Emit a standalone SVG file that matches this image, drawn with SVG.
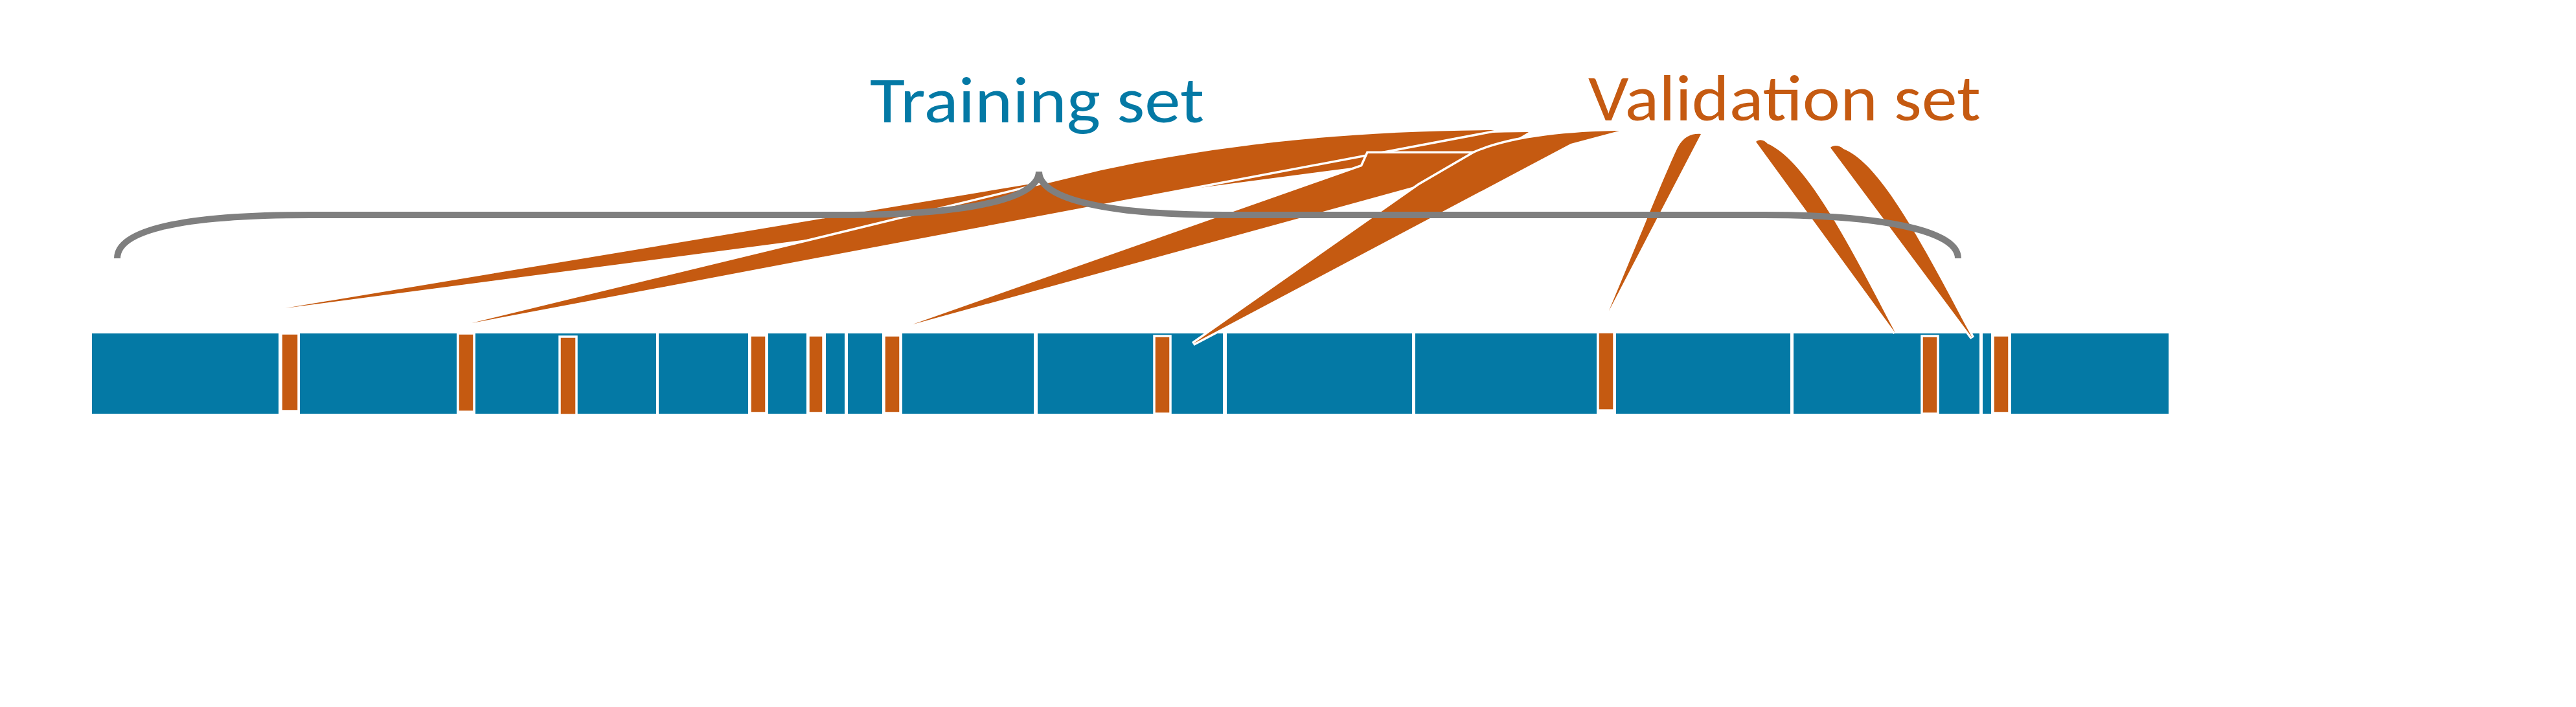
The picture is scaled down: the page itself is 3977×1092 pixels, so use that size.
<svg xmlns="http://www.w3.org/2000/svg" width="3977" height="1092" viewBox="0 0 3977 1092">
<style>
.seg{fill:#0479A5}
.fold{fill:#C55A11;stroke:#FFFFFF;stroke-width:3.5}
.wedge{fill:#C55A11;stroke:#FFFFFF;stroke-width:7;paint-order:stroke fill}
.brace{fill:none;stroke:#7F7F7F;stroke-width:10}
.lbl{font-family:Carlito,Lato,"Open Sans",sans-serif;font-size:100px}
</style>
<rect width="3977" height="1092" fill="#FFFFFF"/>
<g id="data-bar">
<rect class="seg" x="142" y="515" width="288" height="124"/>
<rect class="seg" x="463" y="515" width="242" height="124"/>
<rect class="seg" x="734" y="515" width="279" height="124"/>
<rect class="seg" x="1017" y="515" width="138" height="124"/>
<rect class="seg" x="1186" y="515" width="59" height="124"/>
<rect class="seg" x="1275" y="515" width="29" height="124"/>
<rect class="seg" x="1309" y="515" width="53" height="124"/>
<rect class="seg" x="1393" y="515" width="203" height="124"/>
<rect class="seg" x="1602" y="515" width="286" height="124"/>
<rect class="seg" x="1894" y="515" width="286" height="124"/>
<rect class="seg" x="2185" y="515" width="280" height="124"/>
<rect class="seg" x="2495" y="515" width="269" height="124"/>
<rect class="seg" x="2769" y="515" width="287" height="124"/>
<rect class="seg" x="3061" y="515" width="13" height="124"/>
<rect class="seg" x="3105" y="515" width="243" height="124"/>
</g>
<g id="validation-folds">
<rect class="fold" x="434" y="515" width="27" height="120"/>
<rect class="fold" x="707" y="515" width="25" height="121"/>
<rect class="fold" x="864" y="520" width="26" height="121"/>
<rect class="fold" x="1158" y="518" width="25" height="120"/>
<rect class="fold" x="1248" y="518" width="23" height="120"/>
<rect class="fold" x="1365" y="518" width="25" height="120"/>
<rect class="fold" x="1782" y="519" width="25" height="120"/>
<rect class="fold" x="2467" y="513" width="25" height="121"/>
<rect class="fold" x="2967" y="519" width="25" height="120"/>
<rect class="fold" x="3077" y="518" width="25" height="120"/>
</g>
<g id="connectors">
<path class="wedge" d="M440,476 L1640,276 C1850,240 2100,206 2360,204 L2330,222 L2290,245 L2103,257 Z"/>
<path class="wedge" d="M728,499 L1700,263 C1900,220 2100,202 2307,201 Z"/>
<path class="wedge" d="M1409,501 L2103,257 L2112,237 L2275,237 L2191,286 Z"/>
<path class="wedge" d="M1842,531 L2191,286 L2275,237 C2330,212 2420,203 2500,202 L2425,222 Z"/>
<path class="wedge" d="M2484,480 L2626,207 C2612,206 2600,210 2590,228 C2570,270 2530,370 2484,480 Z"/>
<path class="wedge" d="M2926,514 L2711,219 C2716,214 2724,216 2729,222 C2788,248 2852,372 2926,514 Z"/>
<path class="wedge" d="M3045,522 L2826,228 C2832,223 2840,225 2846,230 C2902,252 2966,372 3045,522 Z"/>
</g>
<g id="training-brace">
<path class="brace" d="M181,399 C181,360 260,332 479,332 L1300,332 C1480,332 1604,310 1604,265 C1604,310 1720,332 1889,332 L2723,332 C2900,332 3023,355 3023,399"/>
</g>
<g id="label-training">
<text class="lbl" x="1343" y="189" fill="#0479A5" textLength="516" lengthAdjust="spacingAndGlyphs">Training set</text>
</g>
<g id="label-validation">
<text class="lbl" x="2452" y="186" fill="#C55A11" textLength="606" lengthAdjust="spacingAndGlyphs">Validation set</text>
</g>
</svg>
